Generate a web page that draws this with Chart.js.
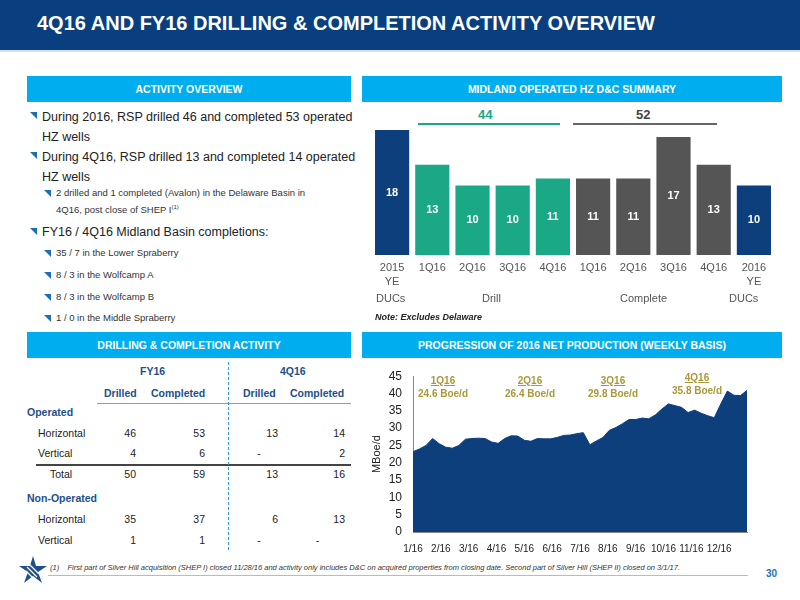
<!DOCTYPE html>
<html><head><meta charset="utf-8">
<script src="https://cdn.jsdelivr.net/npm/chart.js@4"></script>
<style>
body{margin:0;width:800px;height:600px;position:relative;font-family:"Liberation Sans",Arial,sans-serif;background:#fff;overflow:hidden;color:#222}
.a{position:absolute;white-space:nowrap}
.hdr{left:0;top:0;width:800px;height:50px;background:#0a3f7f;border-bottom:2px solid #cfe3f5}
.sec{background:#00aeef;color:#fff;font-weight:bold;font-size:10.5px;text-align:center;line-height:26px;height:26px}
.b1{font-size:12.5px;color:#222;left:42px;line-height:20px}
.b2{font-size:9.5px;color:#333;left:56px;line-height:14px}
.tri{position:absolute;width:0;height:0;border-top:7px solid #1a6fb5;border-left:7px solid transparent}
.t{font-size:10.5px}
.bl{color:#1d4f8c;font-weight:bold}
.ann{color:#a8993a;font-weight:bold;font-size:10px;text-align:center;width:70px;line-height:13px}
</style></head><body>
<div class="a hdr"></div>
<div class="a" style="left:37px;top:12px;color:#fff;font-weight:bold;font-size:20px">4Q16 AND FY16 DRILLING &amp; COMPLETION ACTIVITY OVERVIEW</div>
<div class="a sec" style="left:27px;top:76px;width:324px">ACTIVITY OVERVIEW</div>
<div class="a sec" style="left:362px;top:76px;width:420px">MIDLAND OPERATED HZ D&amp;C SUMMARY</div>
<div class="a sec" style="left:27px;top:332px;width:324px">DRILLING &amp; COMPLETION ACTIVITY</div>
<div class="a sec" style="left:362px;top:332px;width:420px">PROGRESSION OF 2016 NET PRODUCTION (WEEKLY BASIS)</div>

<div class="tri" style="left:30px;top:112px"></div>
<div class="a b1" style="top:107px">During 2016, RSP drilled 46 and completed 53 operated<br>HZ wells</div>
<div class="tri" style="left:30px;top:152px"></div>
<div class="a b1" style="top:147px">During 4Q16, RSP drilled 13 and completed 14 operated<br>HZ wells</div>
<div class="tri" style="left:44px;top:190px"></div>
<div class="a b2" style="top:186px">2 drilled and 1 completed (Avalon) in the Delaware Basin in<br>4Q16, post close of SHEP I<sup style="font-size:6px">(1)</sup></div>
<div class="tri" style="left:30px;top:228px"></div>
<div class="a b1" style="top:222px">FY16 / 4Q16 Midland Basin completions:</div>
<div class="tri" style="left:44px;top:250px"></div><div class="a b2" style="top:246px">35 / 7 in the Lower Spraberry</div>
<div class="tri" style="left:44px;top:272px"></div><div class="a b2" style="top:268px">8 / 3 in the Wolfcamp A</div>
<div class="tri" style="left:44px;top:294px"></div><div class="a b2" style="top:290px">8 / 3 in the Wolfcamp B</div>
<div class="tri" style="left:44px;top:315px"></div><div class="a b2" style="top:311px">1 / 0 in the Middle Spraberry</div>

<div class="a t bl" style="left:140px;top:365px">FY16</div>
<div class="a t bl" style="left:280px;top:365px">4Q16</div>
<div class="a t bl" style="left:104px;top:387px">Drilled</div>
<div class="a t bl" style="left:151px;top:387px">Completed</div>
<div class="a t bl" style="left:243px;top:387px">Drilled</div>
<div class="a t bl" style="left:290px;top:387px">Completed</div>
<div class="a" style="left:97px;top:403px;width:254px;border-top:1px solid #999"></div>
<div class="a" style="left:36px;top:464px;width:315px;border-top:2px solid #444"></div>
<div class="a" style="left:228px;top:362px;height:188px;border-left:1.5px dashed #2a9bd8"></div>
<div class="a t bl" style="left:27px;top:406px">Operated</div>
<div class="a t bl" style="left:27px;top:492px">Non-Operated</div>
<div id="tbl"></div>

<div class="a" style="left:418px;top:123px;width:142px;border-top:2px solid #1aa886"></div>
<div class="a" style="left:573px;top:123px;width:144px;border-top:2px solid #666"></div>
<div class="a" style="left:478px;top:107px;color:#1aa886;font-weight:bold;font-size:13px">44</div>
<div class="a" style="left:636px;top:107px;color:#444;font-weight:bold;font-size:13px">52</div>
<div class="a" style="left:372px;top:130px;width:402px;height:175px"><canvas id="bar"></canvas></div>
<div class="a" style="left:376px;top:292px;font-size:11px;color:#555">DUCs</div>
<div class="a" style="left:482px;top:292px;font-size:11px;color:#555">Drill</div>
<div class="a" style="left:620px;top:292px;font-size:11px;color:#555">Complete</div>
<div class="a" style="left:729px;top:292px;font-size:11px;color:#555">DUCs</div>
<div class="a" style="left:375px;top:312px;font-size:9px;font-weight:bold;font-style:italic">Note: Excludes Delaware</div>

<div class="a" style="left:370px;top:366px;width:380px;height:186px"><canvas id="area"></canvas></div>
<div id="anns"></div>

<svg class="a" style="left:18px;top:555px" width="30" height="30" viewBox="0 0 30 30"><polygon points="15,1 18,11 29,11 20,17 24,28 15,21 6,28 10,17 1,11 12,11" fill="#1d4f8c"/><path d="M9 12 L19 22 M12 10 L21 19 M8 16 L15 23" stroke="#fff" stroke-width="1.3"/></svg>
<div class="a" style="left:50px;top:563px;font-size:7.5px;font-style:italic;color:#333">(1)&nbsp;&nbsp;&nbsp;&nbsp;First part of Silver Hill acquisition (SHEP I) closed 11/28/16 and activity only includes D&amp;C on acquired properties from closing date. Second part of Silver Hill (SHEP II) closed on 3/1/17.</div>
<div class="a" style="left:48px;top:575px;width:700px;border-top:1px solid #bbb"></div>
<div class="a" style="left:766px;top:568px;font-size:10px;color:#1d6fb5;font-weight:bold">30</div>

<script>
const tableRows = ["Horizontal","Vertical","Total","Horizontal","Vertical"];
const fy16Drilled = ["46","4","50","35","1"];
const fy16Completed = ["53","6","59","37","1"];
const q4Drilled = ["13","-","13","6","-"];
const q4Completed = ["14","2","16","13","-"];
const rowTops = [427,447,468,513,534];

const barLabels = [["2015","YE"],"1Q16","2Q16","3Q16","4Q16","1Q16","2Q16","3Q16","4Q16",["2016","YE"]];
const barValues = [18,13,10,10,11,11,11,17,13,10];

const prodWeekly = [23.2,24,25,27,25.5,24.5,24.2,25,26.8,27,27.1,27,26,25.6,27,27.8,27.7,26.5,26.2,27,26.9,26.9,27.3,27.9,28,28.4,28.7,25.2,26.3,27.3,29.4,30.2,31.3,32.5,32.5,32.9,32.7,33.8,35.5,37,36.5,36,34.5,35.2,34.3,33.6,33,37,40.7,39.5,39.4,40.9];
const monthLabels = ["1/16","2/16","3/16","4/16","5/16","6/16","7/16","8/16","9/16","10/16","11/16","12/16"];
const quarterNames = ["1Q16","2Q16","3Q16","4Q16"];
const quarterAvg = ["24.6 Boe/d","26.4 Boe/d","29.8 Boe/d","35.8 Boe/d"];

let h='';
tableRows.forEach((r,i)=>{
  const t=rowTops[i], ind = r==="Total"?50:38;
  h+=`<div class="a t" style="left:${ind}px;top:${t}px">${r}</div>`;
  [[fy16Drilled,105,136],[fy16Completed,150,205],[q4Drilled,240,278],[q4Completed,290,345]].forEach(([arr,l,rr])=>{
    h+=`<div class="a t" style="left:${l}px;width:${rr-l}px;top:${t}px;text-align:${arr[i]==='-'?'center':'right'}">${arr[i]}</div>`;
  });
});
document.getElementById('tbl').innerHTML=h;

const annX=[408,495,578,662], annY=[374,374,374,371];
let ah='';
quarterNames.forEach((q,i)=>{ah+=`<div class="a ann" style="left:${annX[i]}px;top:${annY[i]}px"><u>${q}</u><br>${quarterAvg[i]}</div>`;});
document.getElementById('anns').innerHTML=ah;

const navy='#0d3f7c', green='#1aa886', gray='#555555';
const barColors = barValues.map((v,i)=> i===0||i===9?navy:(i<5?green:gray));
new Chart(document.getElementById('bar'),{
  type:'bar',
  data:{labels:barLabels,datasets:[{data:barValues,backgroundColor:barColors,categoryPercentage:0.85,barPercentage:1}]},
  options:{responsive:true,maintainAspectRatio:false,animation:false,
    plugins:{legend:{display:false},tooltip:{enabled:false}},
    layout:{padding:0},
    scales:{y:{display:false,min:0,max:18},
      x:{grid:{display:false,drawTicks:false},border:{display:false},ticks:{color:'#555',font:{size:11,family:'Liberation Sans',lineHeight:1.25},padding:6,maxRotation:0,autoSkip:false},
        afterFit(s){s.height=50;}}}},
  plugins:[{id:'vals',afterDatasetsDraw(c){const ctx=c.ctx;const m=c.getDatasetMeta(0);ctx.save();ctx.fillStyle='#fff';ctx.font='bold 11px Liberation Sans';ctx.textAlign='center';ctx.textBaseline='middle';
    m.data.forEach((b,i)=>{ctx.fillText(barValues[i],b.x,(b.y+b.base)/2);});ctx.restore();}}]
});

const pts = prodWeekly.map((v,i)=>({x:i*12/(prodWeekly.length-1),y:v}));
new Chart(document.getElementById('area'),{
  type:'line',
  data:{datasets:[{data:pts,fill:'origin',backgroundColor:'#0d3f7c',borderColor:'#0d3f7c',borderWidth:1,pointRadius:0,tension:0}]},
  options:{responsive:true,maintainAspectRatio:false,animation:false,
    plugins:{legend:{display:false},tooltip:{enabled:false}},
    layout:{padding:{top:7,right:0}},
    scales:{
      y:{min:0,max:45,ticks:{stepSize:5,autoSkip:false,color:'#222',font:{size:12,family:'Liberation Sans'}},grid:{display:false},border:{color:'#888'},
        title:{display:true,text:'MBoe/d',color:'#222',font:{size:11,family:'Liberation Sans'},padding:0},afterFit(s){s.width=43;}},
      x:{type:'linear',min:0,max:12,grid:{display:false},border:{color:'#888'},
        ticks:{stepSize:1,color:'#222',font:{size:10,family:'Liberation Sans'},maxRotation:0,autoSkip:false,
          callback:(v)=>monthLabels[v]??''},afterFit(s){s.height=20;}}}}
});
</script>
</body></html>
